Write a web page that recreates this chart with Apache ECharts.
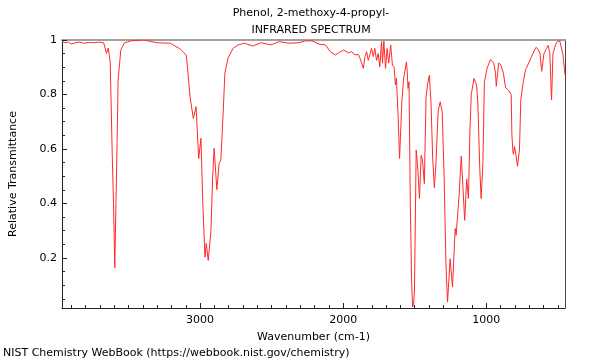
<!DOCTYPE html>
<html><head><meta charset="utf-8">
<script src="https://cdn.jsdelivr.net/npm/echarts@6/dist/echarts.min.js"></script>
<style>html,body{margin:0;padding:0;background:#fff}#c{width:600px;height:360px}</style>
</head><body><div id="c"></div>
<script>
const titleLines = ['Phenol, 2-methoxy-4-propyl-', 'INFRARED SPECTRUM'];
const xName = 'Wavenumber (cm-1)';
const yName = 'Relative Transmittance';
const footer = 'NIST Chemistry WebBook (https://webbook.nist.gov/chemistry)';
const xMin = 450, xMax = 3965;
const yMin = 0.0162, yMax = 1;
const xLabelValues = [1000, 2000, 3000];
const xMinorTicks = [500,600,700,800,900,1000,1100,1200,1300,1400,1500,1600,1700,1800,1900,2000,2100,2200,2300,2400,2500,2600,2700,2800,2900,3000,3100,3200,3300,3400,3500,3600,3700,3800,3900];
const yLabelValues = [0.2, 0.4, 0.6, 0.8, 1];
const yMinorTicks = [0.05,0.1,0.15,0.2,0.25,0.3,0.35,0.4,0.45,0.5,0.55,0.6,0.65,0.7,0.75,0.8,0.85,0.9,0.95,1];

const wavenumber = [3965,3946,3920,3900,3870,3842,3810,3773,3740,3704,3674,3654,3642,3628,3614,3605,3596,3588,3580,3573,3554,3531,3485,3393,3301,3208,3139,3097,3088,3070,3047,3028,3010,2994,2981,2966,2957,2943,2924,2912,2902,2883,2867,2855,2839,2827,2805,2770,2735,2689,2632,2574,2505,2447,2378,2309,2263,2217,2170,2124,2090,2055,2032,1997,1963,1940,1917,1894,1882,1871,1859,1848,1836,1825,1812,1802,1790,1779,1767,1755,1744,1732,1725,1716,1704,1693,1682,1668,1656,1644,1635,1628,1617,1606,1590,1578,1571,1558,1552,1547,1540,1531,1522,1515,1508,1502,1490,1478,1467,1455,1446,1433,1421,1409,1398,1386,1375,1363,1352,1336,1322,1308,1294,1282,1271,1260,1253,1236,1227,1217,1211,1190,1175,1167,1151,1137,1125,1114,1105,1086,1068,1059,1045,1036,1024,1013,994,971,959,948,936,930,914,900,881,865,844,833,826,821,814,810,803,793,782,768,759,741,726,717,683,653,637,625,613,597,579,568,556,544,534,514,505,487,475,464,450];
const transmittance = [0.994,0.990,0.992,0.985,0.990,0.992,0.988,0.991,0.990,0.992,0.990,0.951,0.970,0.920,0.580,0.400,0.164,0.400,0.620,0.853,0.963,0.988,0.997,1.000,0.990,0.988,0.967,0.945,0.900,0.790,0.712,0.755,0.565,0.639,0.400,0.203,0.253,0.191,0.300,0.500,0.602,0.451,0.547,0.559,0.730,0.878,0.933,0.969,0.982,0.988,0.978,0.990,0.982,0.994,0.988,0.990,0.997,0.997,0.985,0.982,0.957,0.945,0.953,0.963,0.953,0.957,0.945,0.947,0.932,0.925,0.896,0.939,0.957,0.925,0.950,0.969,0.939,0.969,0.925,0.950,0.902,0.994,0.915,0.996,0.896,0.969,0.915,0.982,0.908,0.900,0.835,0.860,0.730,0.565,0.773,0.860,0.878,0.920,0.878,0.822,0.846,0.400,0.120,0.020,0.030,0.080,0.596,0.522,0.418,0.577,0.560,0.473,0.792,0.841,0.871,0.767,0.571,0.458,0.547,0.740,0.773,0.736,0.485,0.179,0.038,0.130,0.197,0.093,0.200,0.308,0.283,0.430,0.574,0.497,0.338,0.490,0.418,0.669,0.800,0.859,0.835,0.767,0.522,0.418,0.547,0.848,0.897,0.928,0.930,0.915,0.880,0.830,0.915,0.910,0.880,0.824,0.815,0.818,0.800,0.650,0.590,0.580,0.609,0.580,0.536,0.600,0.780,0.848,0.891,0.900,0.940,0.973,0.965,0.952,0.885,0.950,0.970,0.980,0.950,0.780,0.950,0.985,0.993,0.997,0.995,0.946,0.872,0.768];

const font = 'DejaVu Sans';
const txt = '#000';
const seriesData = wavenumber.map((w, i) => [w, transmittance[i]]);

const chart = echarts.init(document.getElementById('c'), null, {renderer: 'canvas'});
const grid = {left: 57, right: 35, top: 40, bottom: 52, containLabel: false};
const hiddenLabel = {show: false};
chart.setOption({
  animation: false,
  backgroundColor: '#fff',
  grid: grid,
  graphic: [
    {type: 'text', x: 311, y: 13, style: {text: titleLines[0], font: '11px "' + font + '"', fill: txt, textAlign: 'center', textVerticalAlign: 'middle'}},
    {type: 'text', x: 311, y: 30, style: {text: titleLines[1], font: '11px "' + font + '"', fill: txt, textAlign: 'center', textVerticalAlign: 'middle'}},
    {type: 'text', x: 3, y: 353, style: {text: footer, font: '11px "' + font + '"', fill: txt, textAlign: 'left', textVerticalAlign: 'middle'}}
  ],
  xAxis: [
    {type: 'value', min: xMin, max: xMax, inverse: true, position: 'bottom',
     axisLine: {show: true, lineStyle: {color: '#222', width: 1}},
     axisTick: {show: true, inside: true, length: 3, customValues: xMinorTicks, lineStyle: {color: '#222'}},
     axisLabel: {show: true, customValues: xLabelValues, margin: 7, fontFamily: font, fontSize: 11, color: txt,
       formatter: v => String(v)},
     splitLine: {show: false},
     name: xName, nameLocation: 'middle', nameGap: 24, nameTextStyle: {fontFamily: font, fontSize: 11, color: txt}},
    {type: 'value', min: xMin, max: xMax, inverse: true, position: 'bottom',
     axisLine: {show: false},
     axisTick: {show: true, inside: true, length: 5, customValues: xLabelValues, lineStyle: {color: '#222'}},
     axisLabel: hiddenLabel, splitLine: {show: false}},
    {type: 'value', min: xMin, max: xMax, inverse: true, position: 'top',
     axisLine: {show: true, lineStyle: {color: '#a0a0a0', width: 2}},
     axisTick: {show: false}, axisLabel: hiddenLabel, splitLine: {show: false}}
  ],
  yAxis: [
    {type: 'value', min: yMin, max: yMax, position: 'left',
     axisLine: {show: true, lineStyle: {color: '#222', width: 1}},
     axisTick: {show: true, inside: true, length: 3, customValues: yMinorTicks, lineStyle: {color: '#222'}},
     axisLabel: {show: true, customValues: yLabelValues, margin: 5, fontFamily: font, fontSize: 11, color: txt,
       formatter: v => String(Math.round(v * 10) / 10)},
     splitLine: {show: false},
     name: yName, nameLocation: 'middle', nameGap: 43, nameRotate: 90, nameTextStyle: {fontFamily: font, fontSize: 11, color: txt}},
    {type: 'value', min: yMin, max: yMax, position: 'left',
     axisLine: {show: false},
     axisTick: {show: true, inside: true, length: 5, customValues: yLabelValues, lineStyle: {color: '#222'}},
     axisLabel: hiddenLabel, splitLine: {show: false}},
    {type: 'value', min: yMin, max: yMax, position: 'right',
     axisLine: {show: true, lineStyle: {color: '#444', width: 1}},
     axisTick: {show: false}, axisLabel: hiddenLabel, splitLine: {show: false}}
  ],
  series: [{
    type: 'line', xAxisIndex: 0, yAxisIndex: 0, data: seriesData,
    showSymbol: false, symbol: 'none', smooth: false,
    lineStyle: {color: '#ff2a2a', width: 1}, clip: true
  }]
});
</script></body></html>
